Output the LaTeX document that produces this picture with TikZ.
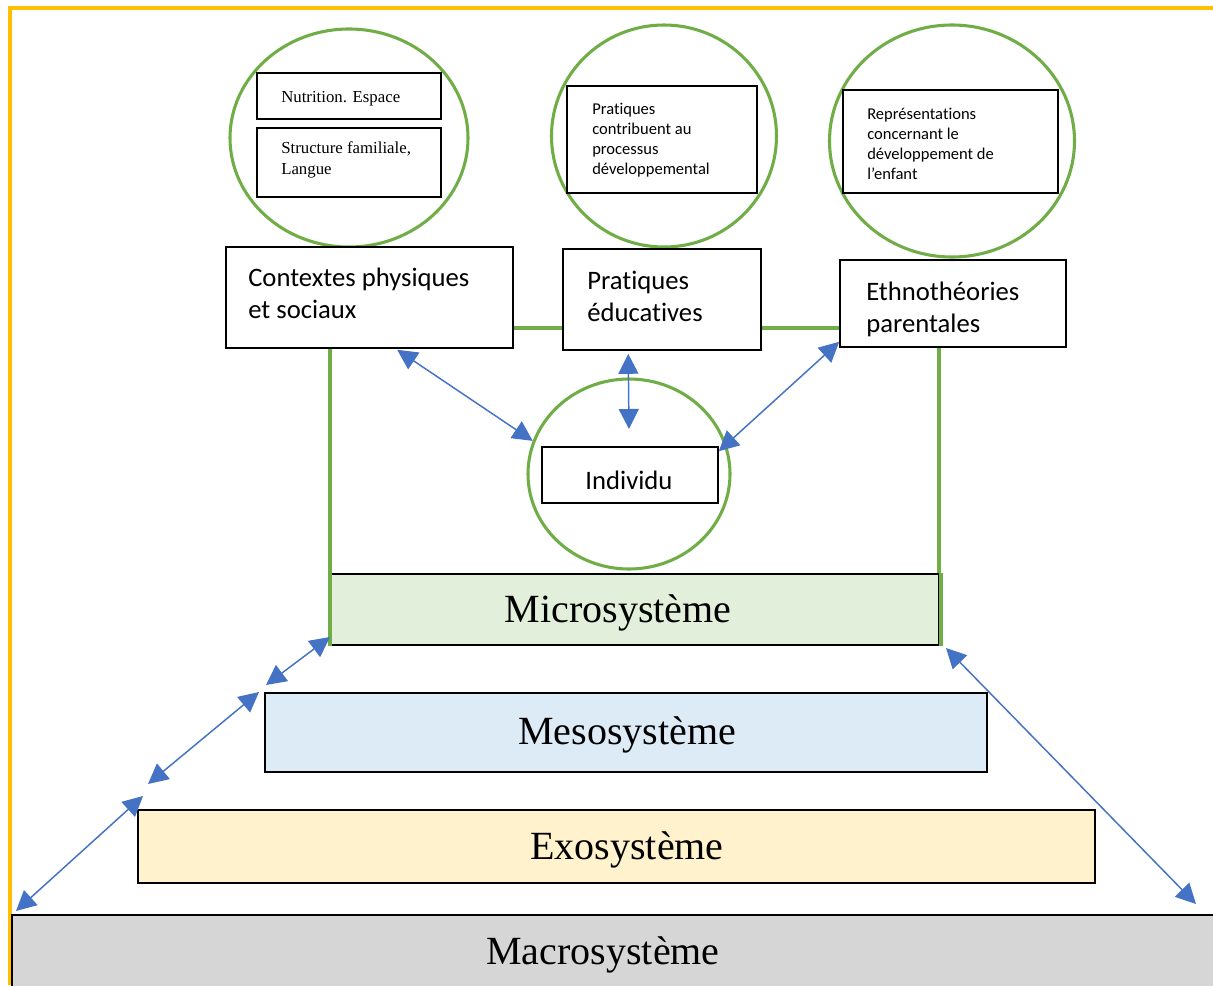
\documentclass[tikz,border=0pt]{standalone}
\usepackage{fontspec}
\setmainfont{Liberation Serif}
\newfontfamily\calibrifont[Ligatures=NoCommon]{Carlito}
\usetikzlibrary{shapes.geometric,arrows.meta,fit,calc}
\definecolor{ygold}{HTML}{FFC000}
\definecolor{lgreen}{HTML}{70AD47}
\definecolor{ablue}{HTML}{4472C4}
\definecolor{microfill}{HTML}{E2EFDA}
\definecolor{mesofill}{HTML}{DDEBF7}
\definecolor{exofill}{HTML}{FFF2CC}
\definecolor{macrofill}{HTML}{D6D6D6}
\begin{document}
\begin{tikzpicture}[x=0.75pt,y=-0.75pt,
 ring/.style={ellipse, draw=lgreen, line width=2.3pt, inner sep=0},
 boxframe/.style={draw=black, line width=1.2pt, fill=white, inner sep=0},
 sysbox/.style={draw=black, line width=1.5pt, inner sep=0},
 smallserif/.style={font=\fontsize{12.6}{15.75}\selectfont, align=left, anchor=west, inner sep=0},
 smallcal/.style={font=\calibrifont\fontsize{12.4}{15}\selectfont, align=left, anchor=west, inner sep=0},
 maincal/.style={font=\calibrifont\fontsize{20}{24}\selectfont, align=left, anchor=west, inner sep=0},
 systext/.style={font=\fontsize{30}{36}\selectfont, inner sep=0},
 link/.style={draw=ablue, line width=1.1pt, {Triangle[length=15pt,width=15pt]}-{Triangle[length=15pt,width=15pt]}},
]
\useasboundingbox (0,0) rectangle (1213,985);
\fill[white] (0,0) rectangle (1213,985);

% outer yellow frame
\draw[ygold, line width=2.3pt] (1213,8) -- (10,8) -- (10,985);

% green frame linking the microsystem
\draw[lgreen, line width=2.3pt] (330,645) -- (330,328) -- (939,328) -- (939,645);

% circles
\node[ring, minimum width=178.5pt, minimum height=163.5pt] (c1) at (349,138) {};
\node[ring, minimum width=168.75pt, minimum height=166.5pt] (c2) at (664,136) {};
\node[ring, minimum width=183.75pt, minimum height=174pt] (c3) at (952,141) {};
\node[ring, minimum width=151.5pt, minimum height=142.5pt] (ind) at (629,474) {};

% inner boxes
\node[boxframe, fit={(257,73)(441,119)}] (nutr) {};
\node[boxframe, fit={(257,128)(441,197)}] (struc) {};
\node[boxframe, fit={(567,86)(757,193)}] (contrib) {};
\node[boxframe, fit={(843,90)(1058,193)}] (repr) {};
\node[boxframe, fit={(542,447)(718,503)}] (indbox) {};

% main boxes
\node[boxframe, fit={(226,247)(513,348)}] (ctx) {};
\node[boxframe, fit={(563,249)(761,350)}] (prat) {};
\node[boxframe, fit={(840,260)(1066,347)}] (ethno) {};

% system boxes
\node[sysbox, fill=macrofill, fit={(12,915)(1216,990)}] (macro) {};
\node[sysbox, fill=exofill, fit={(138,810)(1095,883)}] (exo) {};
\node[sysbox, fill=mesofill, fit={(265,693)(987,772)}] (meso) {};
\node[sysbox, fill=microfill, fit={(331,574)(939,645)}] (micro) {};
\draw[lgreen, line width=2.3pt] (micro.north west) -- (micro.south west);
\draw[lgreen, line width=2.3pt] ($(micro.north east)+(1,0)$) -- ($(micro.south east)+(1,0)$);

% texts
\node[smallserif] (tnutr) at (281,99) {Nutrition. Espace};
\node[smallserif] (tstruc) at (281,159.5) {Structure familiale,\\Langue};
\node[smallcal] (tcontrib) at (592,140) {Pratiques\\contribuent au\\processus\\développemental};
\node[smallcal] (trepr) at (867,144) {Représentations\\concernant le\\développement de\\l’enfant};
\node[maincal] (tctx) at (248,293.5) {Contextes physiques\\et sociaux};
\node[maincal] (tprat) at (587,296.5) {Pratiques\\éducatives};
\node[maincal] (tethno) at (866,309) {Ethnothéories\\parentales};
\node[font=\calibrifont\fontsize{20}{24}\selectfont, inner sep=0] (tind) at (629,480) {Individu};
\node[systext] (tmicro) at (618,613) {Microsystème};
\node[systext] (tmeso) at (627,735) {Mesosystème};
\node[systext] (texo) at (627,850) {Exosystème};
\node[systext] (tmacro) at (603,955) {Macrosystème};

% arrows
\draw[link] ($(ctx.south west)+(172,1)$) -- (ind.161);
\draw[link] ($(prat.south west)+(66,3)$) -- ($(ind.center)+(0,-45)$);
\draw[link] ($(ethno.south west)+(0,-6)$) -- ($(indbox.north east)+(0,5)$);
\draw[link] ($(micro.south west)+(0,-9)$) -- ($(meso.north west)+(2,-7)$);
\draw[link] ($(meso.north west)+(-5,0)$) -- ($(exo.north west)+(11,-25)$);
\draw[link] ($(exo.north west)+(6,-13)$) -- ($(macro.north west)+(5,-3)$);
\draw[link] ($(micro.south east)+(6,2)$) -- ($(macro.north west)+(1185,-10)$);
\end{tikzpicture}
\end{document}
